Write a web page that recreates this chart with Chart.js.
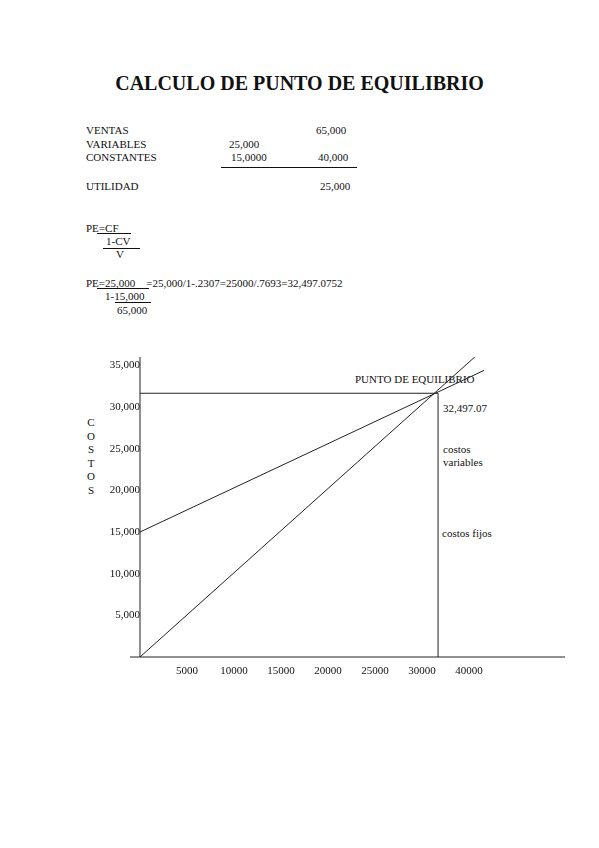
<!DOCTYPE html>
<html>
<head>
<meta charset="utf-8">
<script src="https://cdn.jsdelivr.net/npm/chart.js@4"></script>
<style>
body { margin:0; width:599px; height:848px; background:#fff; font-family:"Liberation Serif", serif; color:#111; position:relative; }
.t { position:absolute; font-size:11px; white-space:nowrap; line-height:13px; }
h1 { position:absolute; top:72px; left:0; width:599px; text-align:center; margin:0; font-size:20px; font-weight:bold; }
.hl { position:absolute; border-top:1px solid #111; height:0; }
#wrap { position:absolute; left:60px; top:340px; width:520px; height:360px; }
</style>
</head>
<body>
<h1>CALCULO DE PUNTO DE EQUILIBRIO</h1>
<div class="t" style="left:86px;top:124px">VENTAS</div>
<div class="t" style="left:316px;top:124px">65,000</div>
<div class="t" style="left:86px;top:138px">VARIABLES</div>
<div class="t" style="left:229px;top:138px">25,000</div>
<div class="t" style="left:86px;top:151px">CONSTANTES</div>
<div class="t" style="left:231px;top:151px">15,0000</div>
<div class="t" style="left:318px;top:151px">40,000</div>
<div class="hl" style="left:221px;top:167px;width:136px"></div>
<div class="t" style="left:86px;top:180px">UTILIDAD</div>
<div class="t" style="left:320px;top:180px">25,000</div>
<div class="t" style="left:86px;top:222px">PE=CF</div>
<div class="hl" style="left:97px;top:233px;width:34px"></div>
<div class="t" style="left:106px;top:235px">1-CV</div>
<div class="hl" style="left:103px;top:248px;width:37px"></div>
<div class="t" style="left:116px;top:248px">V</div>
<div class="t" style="left:86px;top:277px">PE=25,000&nbsp;&nbsp;&nbsp; =25,000/1-.2307=25000/.7693=32,497.0752</div>
<div class="hl" style="left:97px;top:288px;width:52px"></div>
<div class="t" style="left:105px;top:290px">1-15,000</div>
<div class="hl" style="left:115px;top:302px;width:36px"></div>
<div class="t" style="left:117px;top:304px">65,000</div>
<div class="t" style="left:86px;top:416px;width:10px;text-align:center;line-height:13.5px">C<br>O<br>S<br>T<br>O<br>S</div>
<div class="t" style="left:355px;top:373px">PUNTO DE EQUILIBRIO</div>
<div class="t" style="left:443px;top:402px">32,497.07</div>
<div class="t" style="left:443px;top:443px">costos<br>variables</div>
<div class="t" style="left:442px;top:527px">costos fijos</div>
<div id="wrap"><canvas id="chart"></canvas></div>
<script>
const xTickValues = [5000, 10000, 15000, 20000, 25000, 30000, 35000]
const xTickLabels = ['5000', '10000', '15000', '20000', '25000', '30000', '40000']
const costoTotalX = [0, 36600]
const costoTotalY = [15000, 34400]
const ventasX = [0, 35600]
const ventasY = [0, 36000]
const puntoX = 31700
const puntoY = 31650

const toPoints = (xs, ys) => xs.map((x, i) => ({ x: x, y: ys[i] }))

const ejes = {
    id: 'ejes',
    afterDraw(chart) {
        const { ctx, chartArea } = chart
        ctx.save()
        ctx.strokeStyle = '#222'
        ctx.lineWidth = 1
        ctx.beginPath()
        ctx.moveTo(chartArea.left, chartArea.top)
        ctx.lineTo(chartArea.left, chartArea.bottom)
        ctx.moveTo(chartArea.left - 10, chartArea.bottom)
        ctx.lineTo(chartArea.right, chartArea.bottom)
        ctx.stroke()
        ctx.restore()
    }
}

const lineaNegra = { borderColor: '#222', borderWidth: 1, pointRadius: 0, fill: false }

new Chart(document.getElementById('chart'), {
    type: 'scatter',
    data: {
        datasets: [
            { ...lineaNegra, data: toPoints(costoTotalX, costoTotalY), showLine: true },
            { ...lineaNegra, data: toPoints(ventasX, ventasY), showLine: true },
            { ...lineaNegra, data: toPoints([0, puntoX], [puntoY, puntoY]), showLine: true },
            { ...lineaNegra, data: toPoints([puntoX, puntoX], [0, puntoY]), showLine: true }
        ]
    },
    options: {
        responsive: true,
        maintainAspectRatio: false,
        animation: false,
        layout: { padding: { top: 17, right: 15, left: 0, bottom: 0 } },
        plugins: { legend: { display: false }, tooltip: { enabled: false } },
        scales: {
            x: {
                type: 'linear', min: 0, max: 45200,
                grid: { display: false, drawTicks: false }, border: { display: false },
                afterFit: s => { s.height = 43 },
                afterBuildTicks: s => { s.ticks = xTickValues.map(v => ({ value: v })) },
                ticks: {
                    padding: 8, color: '#111', maxRotation: 0, autoSkip: false,
                    font: { family: 'Liberation Serif', size: 11 },
                    callback: (v) => xTickLabels[xTickValues.indexOf(v)]
                }
            },
            y: {
                type: 'linear', min: 0, max: 36000,
                grid: { display: false, drawTicks: false }, border: { display: false },
                afterFit: s => { s.width = 80 },
                afterBuildTicks: s => { s.ticks = [5000, 10000, 15000, 20000, 25000, 30000, 35000].map(v => ({ value: v })) },
                ticks: {
                    padding: 0, color: '#111',
                    font: { family: 'Liberation Serif', size: 11 },
                    callback: (v) => v.toLocaleString('en-US')
                }
            }
        }
    },
    plugins: [ejes]
})
</script>
</body>
</html>
